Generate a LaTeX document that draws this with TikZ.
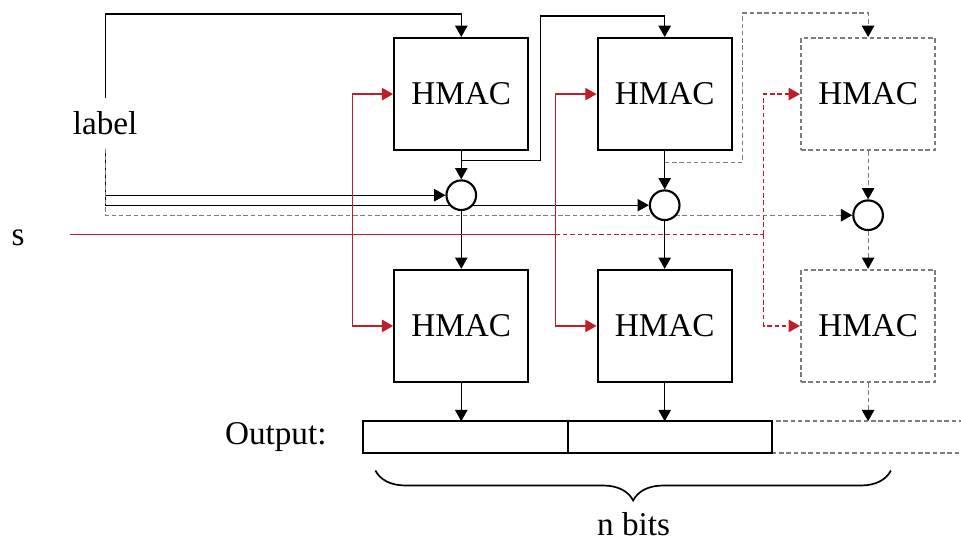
\documentclass[tikz,border=0pt]{standalone}
\usepackage{fontspec}
\setmainfont{Liberation Serif}
\usetikzlibrary{arrows.meta, positioning, backgrounds, decorations.pathreplacing}
\definecolor{hmRed}{RGB}{190,30,40}
\definecolor{hmGrey}{RGB}{125,125,125}
\tikzset{
  hbox/.style={draw, fill=white, minimum width=1.675cm, minimum height=1.4cm, inner sep=0pt},
  xor/.style={draw, circle, fill=white, minimum size=0.37cm, inner sep=0pt},
  seg/.style={draw, minimum width=2.55cm, minimum height=0.4cm, inner sep=0pt, outer sep=0pt},
  ghost/.style={draw=hmGrey, dash pattern=on 1.6pt off 1pt},
  ghostln/.style={hmGrey, dash pattern=on 1.6pt off 1pt},
  arr/.style={-{Triangle[length=4pt, width=4.4pt, color=black]}},
  redln/.style={hmRed, line width=0.45pt},
  redarr/.style={redln, -{Triangle[length=4pt, width=4.4pt]}},
}

\begin{document}
\begin{tikzpicture}[font=\fontsize{11.8}{14}\selectfont, line width=0.75pt]
    \useasboundingbox (0,0) rectangle (12,6.75);
    % first row of HMACs
    \node[hbox] (t1) at (5.76,5.575) {HMAC};
    \node[hbox] (t2) at (8.3,5.575) {HMAC};
    \node[hbox, ghost] (t3) at (10.84,5.575) {HMAC};
    % combiners
    \node[xor] (x1) at (5.76,4.3125) {};
    \node[xor] (x2) at (8.3,4.1875) {};
    \node[xor] (x3) at (10.84,4.0625) {};
    % second row of HMACs
    \node[hbox] (b1) at (5.76,2.68) {HMAC};
    \node[hbox] (b2) at (8.3,2.68) {HMAC};
    \node[hbox, ghost] (b3) at (10.84,2.68) {HMAC};
    % output register
    \node[seg] (o1) at (5.8125,1.29) {};
    \node[seg, ghost, right=2.55cm of o1] (o3) {};
    \node[seg, right=0pt of o1] (o2) {};
    \node[left=3.3mm of o1] (out) {Output:};
    % inputs
    \node[inner sep=4.5pt] (lbl) at (1.3125,5.2125) {label};
    \node (s) at (0.225,3.775) {s};
    \node (nb) at (7.9125,0.2) {n bits};
    % bends
    \coordinate (k0) at (5.76,6.575);
    \coordinate (f1) at (5.76,4.75);
    \coordinate (u1) at (6.75,6.55);
    \coordinate (f2) at (8.3,4.725);
    \coordinate (u2) at (9.275,6.5875);
    \coordinate (s0) at (0.875,3.825);
    \coordinate (r1) at (4.4,3.825);
    \coordinate (r2) at (6.9375,3.825);
    \coordinate (r3) at (9.5375,3.825);
    \coordinate (br0) at (4.6875,0.875);
    \coordinate (br1) at (11.125,0.875);

    \begin{scope}[on background layer]
      % label feeds
      \draw[arr] (lbl.north) |- (k0) -- (t1);
      \draw[arr] (lbl.south) |- (x1);
      \draw[arr] (lbl.south) |- (x2);
      \draw[arr, ghostln] (lbl.south) |- (x3);
      % chaining
      \draw[arr] (f1) -| (u1) -| (t2);
      \draw[arr, ghostln] (f2) -| (u2) -| (t3);
      \foreach \i in {1,2} {
        \draw[arr] (t\i) -- (x\i);
        \draw[arr] (x\i) -- (b\i);
        \draw[arr] (b\i) -- (b\i |- o1.north);
      }
      \draw[arr, ghostln] (t3) -- (x3);
      \draw[arr, ghostln] (x3) -- (b3);
      \draw[arr, ghostln] (b3) -- (b3 |- o1.north);
      % key s
      \draw[redln] (s0) -- (r2);
      \draw[redln, dash pattern=on 1.6pt off 1pt] (r2) -- (r3);
      \foreach \i in {1,2} {
        \draw[redarr] (r\i) |- (t\i);
        \draw[redarr] (r\i) |- (b\i);
      }
      \draw[redarr, dash pattern=on 1.6pt off 1pt] (r3) |- (t3);
      \draw[redarr, dash pattern=on 1.6pt off 1pt] (r3) |- (b3);
    \end{scope}
    \draw[line width=0.6pt, decorate, decoration={brace, mirror, amplitude=0.375cm}] (br0) -- (br1);
\end{tikzpicture}
\end{document}
